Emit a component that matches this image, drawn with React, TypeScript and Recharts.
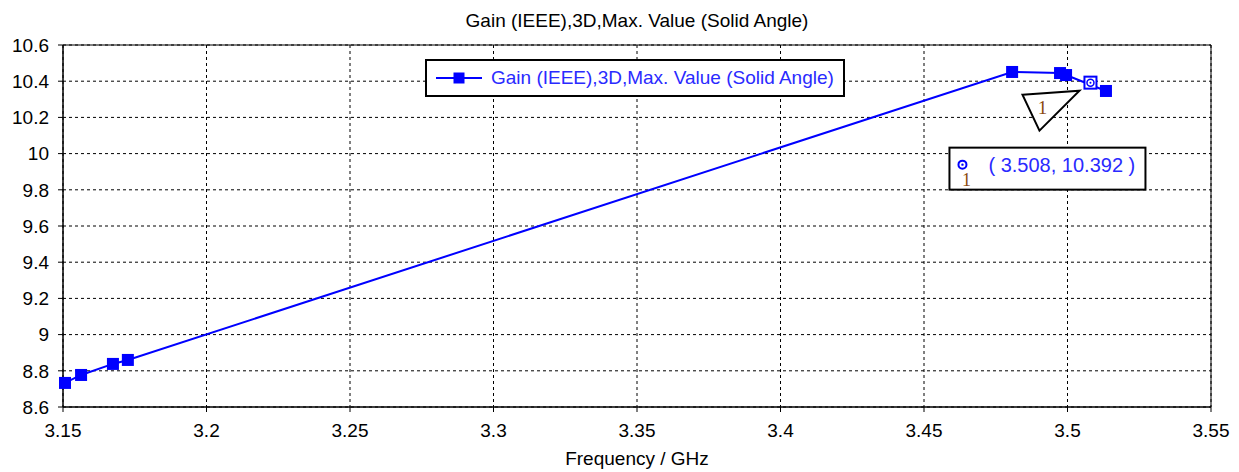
import React from "react";
import { LineChart, Line, XAxis, YAxis, CartesianGrid, ReferenceArea, ReferenceDot, Legend } from "recharts";

// sample points
const freq = [3.1507, 3.1563, 3.1674, 3.1726, 3.4807, 3.4974, 3.4995, 3.5134];
const gain = [8.733, 8.777, 8.838, 8.86, 10.451, 10.445, 10.434, 10.346];

const xTicks = [3.15, 3.2, 3.25, 3.3, 3.35, 3.4, 3.45, 3.5, 3.55];
const yTicks = [8.6, 8.8, 9, 9.2, 9.4, 9.6, 9.8, 10, 10.2, 10.4, 10.6];

const seriesName = "Gain (IEEE),3D,Max. Value (Solid Angle)";
const markerId = "1";
const markerX = 3.508;
const markerY = 10.392;

const data = freq.map((f, i) => ({ freq: f, gain: gain[i] }));

const FONT = "'Liberation Sans', Arial, sans-serif";
const BLUE = "#0000ff";
const TEXT_BLUE = "#2a2aff";
const MARK_BROWN = "#8a4a10";

const SquareDot = (props: any) => {
  const { cx, cy, index } = props;
  if (cx == null || cy == null) return <g key={index} />;
  return <rect key={index} x={cx - 6} y={cy - 6} width={12} height={12} fill={BLUE} />;
};

const LegendBox = () => (
  <div
    style={{
      display: "flex",
      alignItems: "center",
      boxSizing: "border-box",
      width: 420,
      height: 38,
      border: "2px solid #000",
      background: "#fff",
      paddingLeft: 9,
      fontFamily: FONT,
      fontSize: 19,
      color: TEXT_BLUE,
      whiteSpace: "nowrap",
    }}
  >
    <svg width={46} height={12} style={{ flex: "none" }}>
      <line x1={0} y1={6} x2={46} y2={6} stroke={BLUE} strokeWidth={2} />
      <rect x={17.5} y={0.5} width={11} height={11} fill={BLUE} />
    </svg>
    <span style={{ marginLeft: 9 }}>{seriesName}</span>
  </div>
);

// marker symbol plus the triangle tag and the value box
const MarkerShape = (props: any) => {
  const { cx, cy } = props;
  if (cx == null || cy == null) return <g />;
  const label = `( ${markerX.toFixed(3)}, ${markerY.toFixed(3)} )`;
  return (
    <g>
      <polygon
        points={`${cx - 68},${cy + 12} ${cx - 11},${cy + 8} ${cx - 51},${cy + 48}`}
        fill="#fff"
        stroke="#000"
        strokeWidth={2}
      />
      <text x={cx - 48} y={cy + 31} textAnchor="middle" fontFamily="'Liberation Serif', serif" fontSize={19} fill={MARK_BROWN}>
        {markerId}
      </text>
      <rect x={cx - 6} y={cy - 6} width={12} height={12} fill="#fff" stroke={BLUE} strokeWidth={2} />
      <circle cx={cx} cy={cy} r={3.5} fill="none" stroke={BLUE} strokeWidth={1.5} />
      <circle cx={cx} cy={cy} r={1} fill={BLUE} />

      <rect x={cx - 141} y={cy + 65} width={196} height={42} fill="#fff" stroke="#000" strokeWidth={2} />
      <circle cx={cx - 128} cy={cy + 82} r={4} fill="none" stroke={BLUE} strokeWidth={2} />
      <circle cx={cx - 128} cy={cy + 82} r={1.2} fill={BLUE} />
      <text x={cx - 124} y={cy + 103} textAnchor="middle" fontFamily="'Liberation Serif', serif" fontSize={18} fill={MARK_BROWN}>
        {markerId}
      </text>
      <text x={cx - 102} y={cy + 89} fontFamily={FONT} fontSize={20} fill={TEXT_BLUE}>
        {label}
      </text>
    </g>
  );
};

export default function App() {
  return (
    <div style={{ position: "absolute", left: 0, top: 0, width: 1239, height: 472, background: "#fff" }}>
      <div
        style={{
          position: "absolute",
          left: 63,
          width: 1148,
          top: 10,
          textAlign: "center",
          fontFamily: FONT,
          fontSize: 19,
          color: "#000",
          whiteSpace: "nowrap",
        }}
      >
        {seriesName}
      </div>
      <LineChart width={1239} height={472} data={data} margin={{ top: 45, right: 28, left: 0, bottom: 0 }}>
        <CartesianGrid stroke="#000" strokeDasharray="3 3" />
        <XAxis
          dataKey="freq"
          type="number"
          domain={[3.15, 3.55]}
          ticks={xTicks}
          height={65}
          tickSize={5}
          tickMargin={12}
          stroke="#000"
          tick={{ fill: "#000", fontFamily: FONT, fontSize: 19 }}
          tickFormatter={(v: number) => String(+v.toFixed(2))}
          label={{ value: "Frequency / GHz", position: "insideBottom", offset: 7, fill: "#000", fontFamily: FONT, fontSize: 19 }}
        />
        <YAxis
          type="number"
          domain={[8.6, 10.6]}
          ticks={yTicks}
          width={63}
          tickSize={5}
          tickMargin={9}
          stroke="#000"
          tick={{ fill: "#000", fontFamily: FONT, fontSize: 19 }}
          tickFormatter={(v: number) => String(+v.toFixed(1))}
        />
        <ReferenceArea x1={3.15} x2={3.55} y1={8.6} y2={10.6} fill="none" stroke="#000" strokeWidth={1} />
        <Legend
          layout="vertical"
          align="center"
          verticalAlign="middle"
          content={LegendBox}
          wrapperStyle={{ left: 425, top: 59, width: 420, height: 38 }}
        />
        <Line
          dataKey="gain"
          name={seriesName}
          stroke={BLUE}
          strokeWidth={2}
          dot={SquareDot}
          activeDot={false}
          isAnimationActive={false}
        />
        <ReferenceDot x={markerX} y={markerY} shape={MarkerShape} />
      </LineChart>
    </div>
  );
}
